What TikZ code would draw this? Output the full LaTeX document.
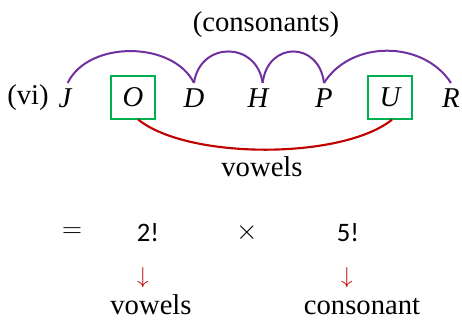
\documentclass[tikz,border=0pt]{standalone}
\usepackage{fontspec}
\setmainfont{Liberation Serif}
\newfontfamily\numfont{Carlito}
\usepackage{tikz}
\usetikzlibrary{arrows.meta,positioning,calc}
\definecolor{boxgreen}{HTML}{00B050}
\definecolor{arcpurple}{HTML}{7030A0}
\definecolor{linkred}{HTML}{C00000}

\begin{document}
\begin{tikzpicture}[
  x=0.75pt,y=-0.75pt,
  lbl/.style={font=\fontsize{21.5}{26}\selectfont,inner sep=0pt},
  letter/.style={font=\fontsize{21.5}{26}\selectfont\itshape,inner sep=0pt,anchor=base},
  vowelbox/.style={draw=boxgreen,line width=1.3pt,font=\fontsize{21.5}{26}\selectfont\itshape,minimum width=33pt,minimum height=32pt,inner sep=0pt},
  num/.style={font=\fontsize{20}{24}\selectfont\numfont,inner sep=0pt},
  op/.style={font=\fontsize{20}{24}\selectfont,inner sep=0pt},
  down/.style={font=\fontsize{19}{23}\selectfont,text=linkred,inner sep=0pt},
  arcline/.style={draw=arcpurple,line width=1.5pt},
  vline/.style={draw=linkred,line width=1.6pt}
]
\useasboundingbox (0,0) rectangle (462,323);
\node[lbl] (title) at (266,25) {(consonants)};
\node[lbl,anchor=base] (vi) at (28,105) {(vi)};
\node[letter] (J) at (65,108) {J};
\node[vowelbox] (O) at (133,97.5) {O};
\node[letter] (D) at (194,108) {D};
\node[letter] (H) at (258,108) {H};
\node[letter] (P) at (324,108) {P};
\node[vowelbox] (U) at (390,97.5) {U};
\node[letter] (R) at (451,108) {R};
\node[lbl,anchor=base] (vowtop) at (262,177) {vowels};
\draw[arcline] ([xshift=2pt,yshift=4.5pt]J.north) .. controls +(21,-43) and +(-21,-42) .. ([yshift=4.5pt]D.north);
\draw[arcline] ([yshift=4.5pt]D.north) .. controls +(6,-42) and +(-6,-42) .. ([xshift=3.5pt,yshift=4.5pt]H.north);
\draw[arcline] ([xshift=3.5pt,yshift=4.5pt]H.north) .. controls +(5,-42) and +(-5,-42) .. ([yshift=4.5pt]P.north);
\draw[arcline] ([yshift=4.5pt]P.north) .. controls +(27,-43) and +(-28,-43) .. ([yshift=4.5pt]R.north);
\draw[vline] ([xshift=4pt]O.south) .. controls +(50,40) and +(-50,40) .. ([xshift=1.5pt]U.south);
\node[op] (eq) at (72,233) {$=$};
\node[num] (two) at (148,233) {2!};
\node[op] (times) at (247,233) {$\times$};
\node[num] (five) at (348,233) {5!};
\node[down] (arrA) at (143,278) {$\downarrow$};
\node[down] (arrB) at (347,278) {$\downarrow$};
\node[lbl,anchor=base] (vow) at (151,315) {vowels};
\node[lbl,anchor=base] (cons) at (362,315) {consonant};
\end{tikzpicture}
\end{document}
